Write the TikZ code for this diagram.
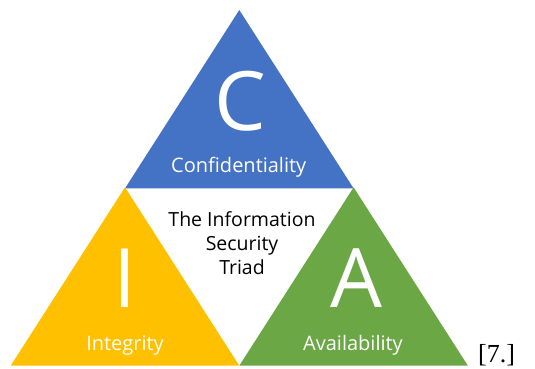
\documentclass[tikz,border=0pt]{standalone}
\usepackage{fontspec}
\setmainfont{Liberation Serif}
\setsansfont{Open Sans}
\definecolor{ciablue}{HTML}{4472C4}
\definecolor{ciagold}{HTML}{FFC000}
\definecolor{ciagreen}{HTML}{6CA745}
\tikzset{
  letter/.style={text=white, font=\sffamily\fontsize{82}{82}\selectfont, inner sep=0pt},
  pillar/.style={text=white, font=\sffamily\fontsize{20}{24}\selectfont, inner sep=0pt},
}

\begin{document}
\begin{tikzpicture}[x=1pt,y=-1pt]
  \useasboundingbox (0,0) rectangle (535,369);

  % Draw the three triangles
  \foreach \x/\y/\c in {125/10/ciablue, 10.7/187.3/ciagold, 239.3/187.3/ciagreen} {
    \fill[\c] (\x+114.3,\y) -- (\x,\y+178.4) -- (\x+228.6,\y+178.4) -- cycle;
  }

  % Big letters
  \node[letter] (conf) at (240.7,101) {C};
  \node[letter] (integ) at (125,278) {I};
  \node[letter] (avail) at (356,278) {A};

  % Names of the three parts
  \node[pillar, anchor=base] (conftxt) at (238.7,172.5) {Confidentiality};
  \node[pillar, anchor=base] (integtxt) at (125,350) {Integrity};
  \node[pillar, anchor=base] (availtxt) at (353,350) {Availability};

  % Text in the middle (base is the last line)
  \node[font=\sffamily\fontsize{19.5}{24}\selectfont, align=center, anchor=base, inner sep=0pt] (triad) at (242,274)
    {The Information\\Security\\Triad};

  % Reference mark
  \node[font=\fontsize{26}{26}\selectfont, anchor=base west, inner sep=0pt] (cite) at (478,362) {[7.]};
\end{tikzpicture}
\end{document}
